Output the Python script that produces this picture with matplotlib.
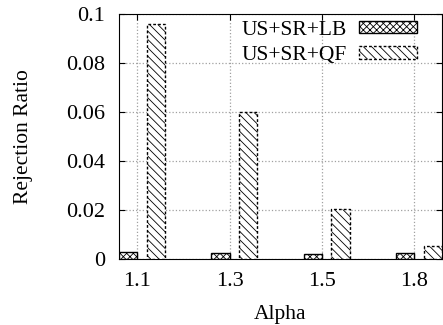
import numpy as np
import matplotlib.pyplot as plt

plt.rcParams['font.family'] = ['Liberation Serif', 'DejaVu Serif']
plt.rcParams['hatch.linewidth'] = 0.6

alphas = ['1.1', '1.3', '1.5', '1.8']
lb = [0.0029, 0.0026, 0.0019, 0.0023]
qf = [0.0959, 0.0600, 0.0205, 0.0054]

fig = plt.figure(figsize=(4.43, 3.25), dpi=100)
ax = fig.add_axes([0.2686, 0.203, 0.7291, 0.754])

x = np.arange(len(alphas))
w = 0.2
ax.bar(x - 0.1, lb, w, facecolor='white', edgecolor='black', linewidth=1.0,
       hatch='xxxxx', label='US+SR+LB', zorder=3)
ax.bar(x + 0.2, qf, w, facecolor='white', edgecolor='black', linewidth=1.0,
       linestyle=(0, (2, 1.5)), hatch='\\\\\\\\', label='US+SR+QF', zorder=3)

ax.set_xlim(-0.2, 3.3)
ax.set_ylim(0, 0.1)
ax.set_xticks(x)
ax.set_xticklabels(alphas)
ax.set_yticks([0, 0.02, 0.04, 0.06, 0.08, 0.1])
ax.set_yticklabels(['0', '0.02', '0.04', '0.06', '0.08', '0.1'])
ax.tick_params(direction='in', length=4, top=True, right=True, labelsize=16)
ax.tick_params(axis='y', pad=10)
ax.tick_params(axis='x', pad=9)
ax.grid(True, color='#a0a0a0', linestyle=':', linewidth=0.9)
ax.set_axisbelow(True)

ax.set_xlabel('Alpha', fontsize=15.5, labelpad=10.5)
ax.set_ylabel('Rejection Ratio', fontsize=15.5, labelpad=24)

ax.legend(loc='upper right', bbox_to_anchor=(0.923, 0.973), frameon=False,
          fontsize=15.5, markerfirst=False, handlelength=2.7, handleheight=0.5,
          borderaxespad=0, borderpad=0, labelspacing=0.3, handletextpad=0.55)

fig.savefig('out.png', dpi=100)
